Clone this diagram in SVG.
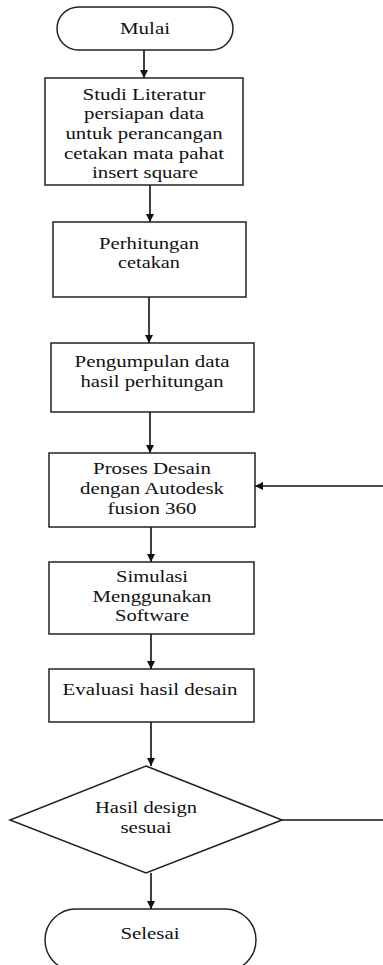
<svg xmlns="http://www.w3.org/2000/svg" width="383" height="965" viewBox="0 0 383 965">
<style>
.s{fill:#fff;stroke:#222;stroke-width:1.5}
.t{font-family:"Liberation Serif","Times New Roman",serif;font-size:16px;fill:#111;text-anchor:middle}
.c{fill:none;stroke:#111;stroke-width:1.6}
</style>
<defs>
<marker id="a" viewBox="0 0 10 10" refX="10" refY="5" markerWidth="5" markerHeight="5" orient="auto" markerUnits="strokeWidth">
<path d="M0,0L10,5L0,10z" fill="#111"/>
</marker>
</defs>
<g id="connectors">
<line class="c" x1="144" y1="50" x2="144" y2="78" marker-end="url(#a)"/>
<line class="c" x1="150" y1="185" x2="150" y2="222" marker-end="url(#a)"/>
<line class="c" x1="149" y1="297" x2="149" y2="343" marker-end="url(#a)"/>
<line class="c" x1="150" y1="412" x2="150" y2="453" marker-end="url(#a)"/>
<line class="c" x1="151" y1="527" x2="151" y2="562" marker-end="url(#a)"/>
<line class="c" x1="151" y1="634" x2="151" y2="669" marker-end="url(#a)"/>
<line class="c" x1="151" y1="722" x2="151" y2="766" marker-end="url(#a)"/>
<line class="c" x1="151" y1="873" x2="151" y2="909" marker-end="url(#a)"/>
<polyline class="c" points="282,820 383,820"/>
<line class="c" x1="383" y1="486" x2="255" y2="486" marker-end="url(#a)"/>
</g>
<g id="mulai">
<rect class="s" x="57" y="7" width="176" height="43" rx="21.5"/>
<text class="t" x="145" y="34" textLength="50" lengthAdjust="spacingAndGlyphs">Mulai</text>
</g>
<g id="studi">
<rect class="s" x="45" y="78" width="198" height="107"/>
<text class="t" x="144" y="100" textLength="123" lengthAdjust="spacingAndGlyphs">Studi Literatur</text>
<text class="t" x="144" y="119" textLength="120" lengthAdjust="spacingAndGlyphs">persiapan data</text>
<text class="t" x="144" y="139" textLength="157" lengthAdjust="spacingAndGlyphs">untuk perancangan</text>
<text class="t" x="144" y="159" textLength="160" lengthAdjust="spacingAndGlyphs">cetakan mata pahat</text>
<text class="t" x="145" y="178" textLength="106" lengthAdjust="spacingAndGlyphs">insert square</text>
</g>
<g id="perhitungan">
<rect class="s" x="53" y="222" width="193" height="75"/>
<text class="t" x="149" y="249" textLength="100" lengthAdjust="spacingAndGlyphs">Perhitungan</text>
<text class="t" x="149" y="268" textLength="62" lengthAdjust="spacingAndGlyphs">cetakan</text>
</g>
<g id="pengumpulan">
<rect class="s" x="51" y="343" width="203" height="69"/>
<text class="t" x="152" y="367" textLength="155" lengthAdjust="spacingAndGlyphs">Pengumpulan data</text>
<text class="t" x="152" y="387" textLength="143" lengthAdjust="spacingAndGlyphs">hasil perhitungan</text>
</g>
<g id="desain">
<rect class="s" x="49" y="453" width="206" height="74"/>
<text class="t" x="152" y="474" textLength="118" lengthAdjust="spacingAndGlyphs">Proses Desain</text>
<text class="t" x="152" y="494" textLength="144" lengthAdjust="spacingAndGlyphs">dengan Autodesk</text>
<text class="t" x="152" y="514" textLength="89" lengthAdjust="spacingAndGlyphs">fusion 360</text>
</g>
<g id="simulasi">
<rect class="s" x="49" y="562" width="205" height="72"/>
<text class="t" x="152" y="582" textLength="72" lengthAdjust="spacingAndGlyphs">Simulasi</text>
<text class="t" x="152" y="602" textLength="119" lengthAdjust="spacingAndGlyphs">Menggunakan</text>
<text class="t" x="152" y="621" textLength="74" lengthAdjust="spacingAndGlyphs">Software</text>
</g>
<g id="evaluasi">
<rect class="s" x="49" y="669" width="205" height="53"/>
<text class="t" x="150" y="695" textLength="175" lengthAdjust="spacingAndGlyphs">Evaluasi hasil desain</text>
</g>
<g id="keputusan">
<polygon class="s" points="146,766 282,820 146,873 10,820"/>
<text class="t" x="146" y="813" textLength="102" lengthAdjust="spacingAndGlyphs">Hasil design</text>
<text class="t" x="146" y="833" textLength="51" lengthAdjust="spacingAndGlyphs">sesuai</text>
</g>
<g id="selesai">
<rect class="s" x="45" y="909" width="211" height="62" rx="31"/>
<text class="t" x="150" y="939" textLength="59" lengthAdjust="spacingAndGlyphs">Selesai</text>
</g>
</svg>
